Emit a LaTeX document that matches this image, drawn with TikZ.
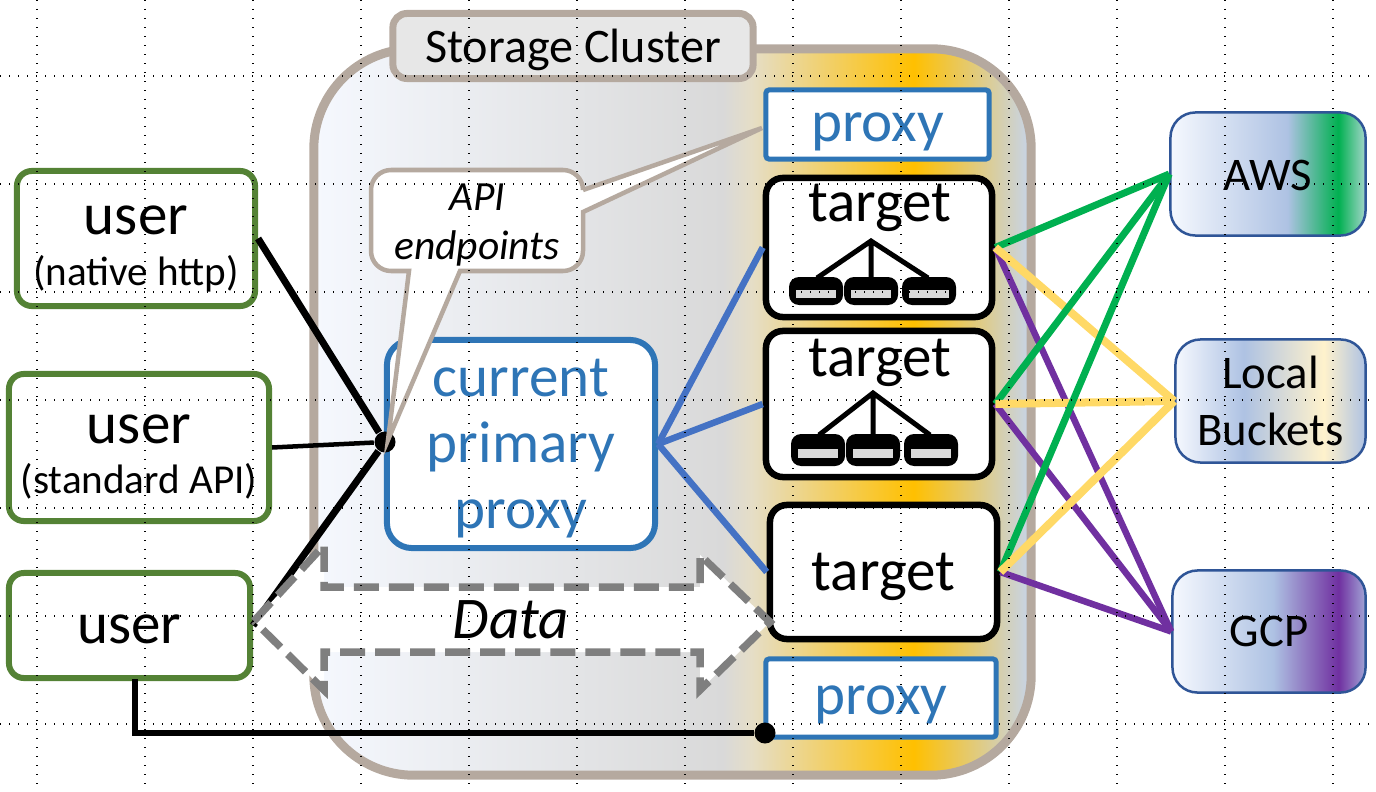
\documentclass[tikz,border=0pt]{standalone}
\usepackage{fontspec}
\setmainfont{Carlito}

\definecolor{clusterline}{HTML}{B5A99F}
\definecolor{proxyblue}{HTML}{2E75B6}
\definecolor{linkblue}{HTML}{4472C4}
\definecolor{usergreen}{HTML}{548235}
\definecolor{awsgreen}{HTML}{00B050}
\definecolor{localyellow}{HTML}{FFD966}
\definecolor{gcppurple}{HTML}{7030A0}
\definecolor{bucketline}{HTML}{2F5597}
\definecolor{tagfill}{HTML}{E7E7E7}
\definecolor{dataline}{HTML}{7F7F7F}
\definecolor{icewhite}{HTML}{F5F8FE}
\definecolor{midgrey}{HTML}{D9D9D9}
\definecolor{paleblue}{HTML}{AEC2E3}
\definecolor{goldfill}{HTML}{FFC000}
\definecolor{creamfill}{HTML}{FFF2CC}

\pgfdeclarehorizontalshading{clusterfill}{100bp}{color(0bp)=(icewhite);color(25bp)=(icewhite);color(53.5bp)=(midgrey);color(55.5bp)=(midgrey!85!goldfill!80!white);color(66.8bp)=(goldfill);color(75bp)=(paleblue!70!white);color(100bp)=(paleblue!70!white)}
\pgfdeclarehorizontalshading{awsfill}{100bp}{color(0bp)=(icewhite);color(25bp)=(icewhite);color(55bp)=(paleblue);color(68bp)=(awsgreen);color(75bp)=(paleblue!60!awsgreen!60!white);color(100bp)=(paleblue!60!awsgreen!60!white)}
\pgfdeclarehorizontalshading{localfill}{100bp}{color(0bp)=(icewhite);color(25bp)=(icewhite);color(43bp)=(paleblue);color(64bp)=(creamfill);color(75bp)=(paleblue);color(100bp)=(paleblue)}
\pgfdeclarehorizontalshading{gcpfill}{100bp}{color(0bp)=(icewhite);color(25bp)=(icewhite);color(51bp)=(paleblue);color(68bp)=(gcppurple);color(75bp)=(paleblue!80!gcppurple);color(100bp)=(paleblue!80!gcppurple)}

\tikzset{
    bigtext/.style={font=\fontsize{16.8}{18.8}\selectfont, text depth=0pt},
    cloudtext/.style={font=\fontsize{13.3}{16.2}\selectfont, text depth=0pt},
    usernode/.style={draw=usergreen, line width=.06cm, rounded corners=.15cm, fill=white, align=center, inner sep=0pt},
    userlabel/.style={align=center, inner sep=0pt, text depth=0pt},
    targetnode/.style={draw=black, line width=.065cm, rounded corners=.17cm, fill=white, inner sep=0pt, bigtext},
    proxynode/.style={draw=proxyblue, line width=.05cm, rounded corners=.03cm, fill=white, inner sep=0pt, text=proxyblue, bigtext, text height=9.5pt},
    bucketnode/.style={draw=bucketline, line width=.025cm, rounded corners=.25cm, inner sep=0pt, align=center, cloudtext},
    dotnode/.style={circle, fill=black, inner sep=0pt, minimum size=.21cm},
    blackline/.style={draw=black, line width=.07cm},
    bluelink/.style={draw=linkblue, line width=.065cm},
    awslink/.style={draw=awsgreen, line width=.07cm},
    locallink/.style={draw=localyellow, line width=.08cm},
    gcplink/.style={draw=gcppurple, line width=.065cm},
    griddots/.style={draw=black, line width=.3pt, dash pattern=on .3pt off 2.26pt},
    pics/diskstack/.style 2 args={code={
        \draw[line width=.05cm] (-54,#1) -- (0,0) -- (57,#1) (0,0) -- (0,#1);
        \foreach \xpos in {-55,0,58} {
            \fill[black, rounded corners=.1cm] (\xpos-27,#1-1) rectangle (\xpos+27,#1+#2+1);
            \fill[midgrey] (\xpos-20,#1+.48*#2) rectangle (\xpos+20,#1+.76*#2);
        }
    }},
}

\begin{document}
\begin{tikzpicture}[x=.01cm, y=-.01cm]
    \useasboundingbox (0,0) rectangle (1376,791);

    % cluster and its title
    \node [draw=clusterline, line width=.09cm, rounded corners=1cm, shading=clusterfill, inner sep=0pt, minimum width=7.17cm, minimum height=7.26cm] (cluster) at (672.5,412) {};
    \node [draw=clusterline, line width=.07cm, rounded corners=.14cm, fill=tagfill, inner sep=0pt, minimum width=3.6cm, minimum height=.65cm, text depth=0pt, font=\fontsize{13.7}{16}\selectfont] (clustertag) at (573,46) {Storage Cluster};

    % boxes inside the cluster
    \node [proxynode, minimum width=2.23cm, minimum height=.69cm] (proxytop) at (877.5,124.5) {proxy};
    \node [proxynode, minimum width=2.3cm, minimum height=.78cm] (proxybottom) at (881,698) {proxy};
    \node [targetnode, minimum width=2.26cm, minimum height=1.39cm] (target1) at (879,247.5) {};
    \node [targetnode, minimum width=2.26cm, minimum height=1.46cm] (target2) at (879,404) {};
    \node [targetnode, minimum width=2.27cm, minimum height=1.34cm] (target3) at (883.5,572) {target};
    \node [bigtext, inner sep=0pt] (target1label) at (880,203) {target};
    \node [bigtext, inner sep=0pt] (target2label) at (880,358) {target};
    \path (871,241) pic {diskstack={37}{26}};
    \path (873,393) pic {diskstack={42}{30}};
    \node [draw=proxyblue, line width=.06cm, rounded corners=.25cm, fill=white, inner sep=0pt, text=proxyblue, align=center, minimum width=2.68cm, minimum height=2.08cm, bigtext] (primary) at (521,444) {current\\primary\\proxy};

    % users
    \node [usernode, minimum width=2.38cm, minimum height=1.35cm] (user1) at (136,238.5) {};
    \node [usernode, minimum width=2.6cm, minimum height=1.47cm] (user2) at (139,447.5) {};
    \node [usernode, minimum width=2.41cm, minimum height=1.05cm, bigtext, text height=10.3pt] (user3) at (129.5,625.5) {user};
    \node [userlabel] (user1label) at (136,245.5) {\fontsize{16.8}{16.8}\selectfont user\\[2.5pt]\fontsize{11.7}{14}\selectfont (native http)};
    \node [userlabel] (user2label) at (139,454) {\fontsize{16.8}{16.8}\selectfont user\\[2.4pt]\fontsize{11.7}{14}\selectfont (standard API)};

    % cloud buckets
    \node [bucketnode, shading=awsfill, minimum width=1.95cm, minimum height=1.23cm, text height=9.6pt] (aws) at (1268,174) {AWS};
    \node [bucketnode, shading=localfill, minimum width=1.9cm, minimum height=1.23cm] (local) at (1270.5,401) {Local\\Buckets};
    \node [bucketnode, shading=gcpfill, minimum width=1.93cm, minimum height=1.22cm] (gcp) at (1269,631.5) {GCP};

    \node [dotnode] (hubdot) at (385,442) {};
    \node [dotnode] (tapdot) at (765,733) {};
    \coordinate (userdrop) at (135,679);

    % API callout, tails run over the primary proxy box
    \draw [draw=clusterline, fill=white, line width=.045cm, rounded corners=.2cm] (477,170) -- (583,170) [sharp corners] -- (583,190) -- (762,128) -- (583,212) [rounded corners=.2cm] -- (583,271) [sharp corners] -- (460,271) -- (388,440) -- (409,271) [rounded corners=.2cm] -- (371,271) -- (371,170) -- cycle;
    \node [font=\fontsize{11.8}{14.2}\selectfont\itshape, align=center, inner sep=0pt] (apinote) at (477,225) {API\\endpoints};

    % links
    \draw [blackline] (user1.east) -- (hubdot);
    \draw [blackline, line width=.045cm] (user2.east) -- (hubdot);
    \draw [blackline] (user3.east) -- (hubdot);
    \draw [blackline, line width=.06cm] (userdrop) |- (tapdot);
    \foreach \tname in {target1,target2,target3}
        \draw [bluelink] (primary.east) -- (\tname.west);
    \foreach \tname in {target1,target2,target3} {
        \draw [awslink] (\tname.east) -- (aws.west);
        \draw [gcplink] (\tname.east) -- (gcp.west);
        \draw [locallink] (\tname.east) -- (local.west);
    }

    % data arrow
    \draw [draw=dataline, fill=white, line width=.075cm, dash pattern=on .25cm off .1cm] (254,621) -- (324,545) -- (324,587) -- (700,587) -- (700,555) -- (770,622) -- (700,690) -- (700,652) -- (324,652) -- (324,690) -- cycle;
    \node [font=\fontsize{16.8}{18}\selectfont\itshape, inner sep=0pt] (datalabel) at (511,620) {Data};

    % snap grid shows over everything
    \foreach \ypos in {76,184,292,400,508,616,724}
        \draw [griddots] (0,\ypos) -- (1370,\ypos);
    \foreach \xpos in {37,145,253,361,469,577,685,793,901,1009,1117,1225,1333}
        \draw [griddots] (\xpos,0) -- (\xpos,791);
\end{tikzpicture}
\end{document}
